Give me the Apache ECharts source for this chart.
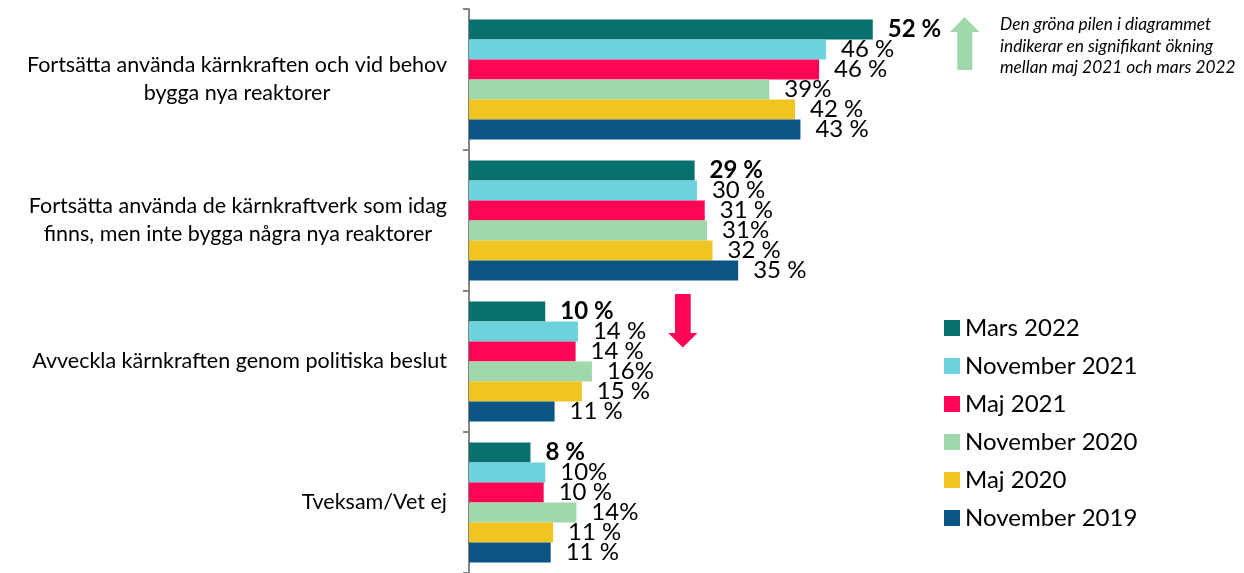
<!DOCTYPE html>
<html>
<head>
<meta charset="utf-8">
<script src="https://cdn.jsdelivr.net/npm/echarts@6/dist/echarts.min.js"></script>
<style>
html,body{margin:0;padding:0;background:#fff;}
#chart{width:1244px;height:573px;}
</style>
</head>
<body>
<div id="chart"></div>
<script>
const categories = [
  'Fortsätta använda kärnkraften och vid behov\nbygga nya reaktorer',
  'Fortsätta använda de kärnkraftverk som idag\nfinns, men inte bygga några nya reaktorer',
  'Avveckla kärnkraften genom politiska beslut',
  'Tveksam/Vet ej'
];
const seriesNames = ['Mars 2022', 'November 2021', 'Maj 2021', 'November 2020', 'Maj 2020', 'November 2019'];
const colors = ['#08716d', '#6bd2de', '#ff0556', '#a0d8ab', '#f0c521', '#0b5585'];

// bar lengths (percent)
const mars2022 = [51.9, 29.0, 9.8, 7.9];
const nov2021  = [45.9, 29.3, 14.0, 9.8];
const maj2021  = [45.0, 30.3, 13.7, 9.6];
const nov2020  = [38.6, 30.6, 15.8, 13.8];
const maj2020  = [41.9, 31.3, 14.5, 10.8];
const nov2019  = [42.6, 34.6, 11.0, 10.5];

// displayed value labels
const lblMars2022 = ['52 %', '29 %', '10 %', '8 %'];
const lblNov2021  = ['46 %', '30 %', '14 %', '10%'];
const lblMaj2021  = ['46 %', '31 %', '14 %', '10 %'];
const lblNov2020  = ['39%', '31%', '16%', '14%'];
const lblMaj2020  = ['42 %', '32 %', '15 %', '11 %'];
const lblNov2019  = ['43 %', '35 %', '11 %', '11 %'];

const noteText = 'Den gröna pilen i diagrammet\nindikerar en signifikant ökning\nmellan maj 2021 och mars 2022';

const FONT = 'Lato';
const values = [mars2022, nov2021, maj2021, nov2020, maj2020, nov2019];
const labels = [lblMars2022, lblNov2021, lblMaj2021, lblNov2020, lblMaj2020, lblNov2019];

const series = seriesNames.map((name, i) => ({
  name: name,
  type: 'bar',
  data: values[i],
  barGap: 0,
  barWidth: 20,
  itemStyle: { color: colors[i] },
  label: {
    show: true,
    position: 'right',
    distance: 15,
    color: '#000',
    fontFamily: FONT,
    fontSize: 24,
    fontWeight: i === 0 ? 'bold' : 'normal',
    formatter: p => labels[i][p.dataIndex]
  }
}));

const chart = echarts.init(document.getElementById('chart'), null, { renderer: 'canvas' });
chart.setOption({
  animation: false,
  backgroundColor: '#fff',
  color: colors,
  grid: { left: 469, top: 9, width: 466.8, height: 567, containLabel: false },
  xAxis: {
    type: 'value', min: 0, max: 60, show: false
  },
  yAxis: {
    type: 'category',
    inverse: true,
    data: categories,
    axisLine: { show: true, lineStyle: { color: '#858585', width: 2 } },
    axisTick: { show: true, length: 6, lineStyle: { color: '#858585', width: 2 } },
    axisLabel: {
      margin: 22,
      formatter: v => v.split('\n').map(l => '{c|' + l + '}').join('\n'),
      rich: {
        c: { align: 'center', fontFamily: FONT, fontSize: 21.5, lineHeight: 28, color: '#000' }
      }
    }
  },
  legend: {
    orient: 'vertical',
    left: 939,
    top: 311,
    itemWidth: 16,
    itemHeight: 16,
    itemGap: 14,
    icon: 'rect',
    selectedMode: false,
    data: seriesNames,
    textStyle: { fontFamily: FONT, fontSize: 24, color: '#000' }
  },
  graphic: [
    {
      type: 'polygon',
      shape: { points: [[964.5, 17], [979.5, 32], [972.3, 32], [972.3, 70], [957.3, 70], [957.3, 32], [950, 32]] },
      style: { fill: '#a0d8ab' }
    },
    {
      type: 'polygon',
      shape: { points: [[675, 294], [690.7, 294], [690.7, 333], [697.5, 333], [682.8, 347.5], [668.2, 333], [675, 333]] },
      style: { fill: '#ff0556' }
    },
    {
      type: 'text',
      left: 1000,
      top: 14,
      style: {
        text: noteText,
        fontFamily: FONT,
        fontStyle: 'italic',
        fontSize: 17.3,
        lineHeight: 21.5,
        fill: '#000'
      }
    }
  ],
  series: series
});
</script>
</body>
</html>
